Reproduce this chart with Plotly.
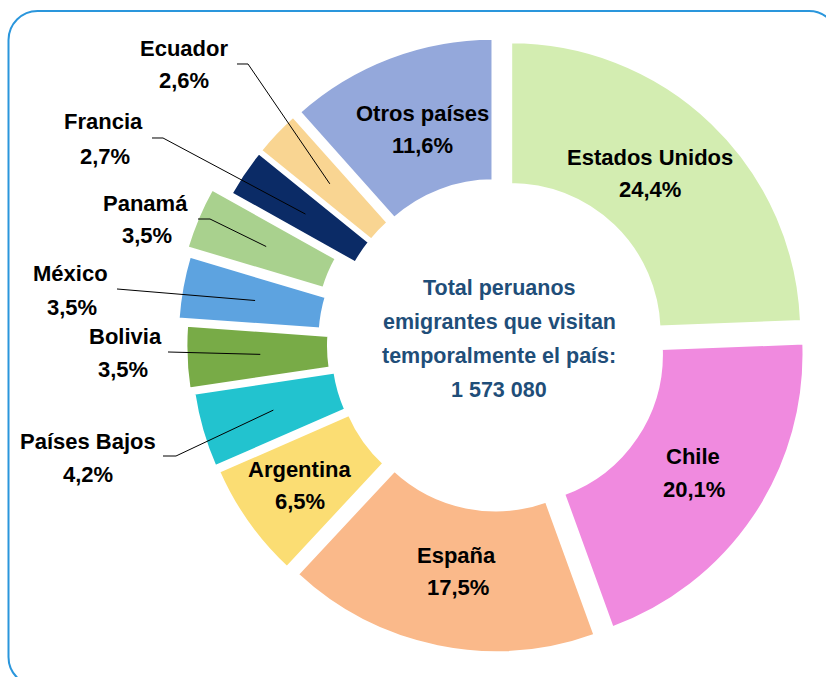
import math
import plotly.graph_objects as go

W, H = 826, 677

# ---- data ----
countries = ["Estados Unidos", "Chile", "España", "Argentina", "Países Bajos",
             "Bolivia", "México", "Panamá", "Francia", "Ecuador", "Otros países"]
shares = [24.4, 20.1, 17.5, 6.5, 4.2, 3.5, 3.5, 3.5, 2.7, 2.6, 11.6]
colors = ["#D3EDB1", "#F08ADF", "#FAB98A", "#FBDD73", "#22C3CF",
          "#78AB47", "#5DA3E0", "#A9D18E", "#0B2B66", "#F9D592", "#94A8DB"]
center_lines = ["Total peruanos", "emigrantes que visitan",
                "temporalmente el país:", "1 573 080"]

# ---- geometry (pixels) ----
CX, CY = 499, 345
R = 291
HOLE = 0.51
MAXPULL = 327.0 / R - 1
pulls = [0.058, 0.058, 0.058, 0.058, 0.062, 0.076, 0.107, MAXPULL,
         0.058, 0.058, 0.058]
half = R * (1 + MAXPULL)


def X(px):
    return px / W


def Y(py):
    return 1 - py / H


fig = go.Figure()
fig.add_trace(go.Pie(
    labels=countries, values=shares, sort=False, direction="clockwise",
    rotation=0, hole=HOLE, pull=pulls,
    marker=dict(colors=colors, line=dict(color="white", width=3)),
    textinfo="none", hoverinfo="label+percent", showlegend=False,
    domain=dict(x=[max(0.0, X(CX - half)), min(1.0, X(CX + half))],
                y=[max(0.0, Y(CY + half)), min(1.0, Y(CY - half))]),
))

FONT = "Liberation Sans, Arial, sans-serif"
annotations = []


def add_text(txt, x, y, size=22, color="black"):
    annotations.append(dict(
        text="<b>%s</b>" % txt, x=X(x), y=Y(y), xref="paper", yref="paper",
        showarrow=False, xanchor="center", yanchor="middle",
        font=dict(family=FONT, size=size, color=color)))


def pct(v):
    return ("%.1f" % v).replace(".", ",") + "%"


# label placement: name line (x, y), percent line (x, y)
label_pos = {
    "Estados Unidos": (650, 157, 650, 190),
    "Chile": (693, 456, 694, 489),
    "España": (456, 555, 458, 587),
    "Argentina": (299, 469, 300, 501),
    "Países Bajos": (88, 441, 88, 474),
    "Bolivia": (125, 337, 123, 369),
    "México": (70, 273, 72, 307),
    "Panamá": (145, 203, 147, 236),
    "Francia": (103, 122, 105, 156),
    "Ecuador": (184, 49, 184, 80),
    "Otros países": (422, 113, 422, 145),
}
for name, v in zip(countries, shares):
    x1, y1, x2, y2 = label_pos[name]
    add_text(name, x1, y1)
    add_text(pct(v), x2, y2)

# centre text
for i, line in enumerate(center_lines):
    add_text(line, 499, 288 + i * 34, size=21.5, color="#1F4E79")

# leader lines: label-side points, ending inside the slice (from data)
leader_start = {
    "Ecuador": [(237, 64), (248, 64)],
    "Francia": [(152, 138), (163, 138)],
    "Panamá": [(198, 219), (210, 219)],
    "México": [(117, 289)],
    "Bolivia": [(168, 352)],
    "Países Bajos": [(163, 456), (176, 456)],
}
total = sum(shares)
cum = 0.0
shapes = []
for name, v, p in zip(countries, shares, pulls):
    mid = math.radians((cum + v / 2) / total * 360)
    cum += v
    if name not in leader_start:
        continue
    dx, dy = math.sin(mid), -math.cos(mid)
    r_end = R * p + R * 0.745
    ex, ey = CX + r_end * dx, CY + r_end * dy
    pts = leader_start[name] + [(ex, ey)]
    path = "M " + " L ".join("%.5f,%.5f" % (X(px), Y(py)) for px, py in pts)
    shapes.append(dict(type="path", path=path, xref="paper", yref="paper",
                       line=dict(color="black", width=1)))

# rounded frame
L_, T_, R_, B_, rad = 8.5, 11, 838, 686, 29
k = 0.45
frame = ("M {a},{b} L {c},{b} C {c2},{b} {r},{d2} {r},{d} L {r},{e} "
         "C {r},{e2} {c2},{bb} {c},{bb} L {a},{bb} C {a2},{bb} {l},{e2} {l},{e} "
         "L {l},{d} C {l},{d2} {a2},{b} {a},{b} Z").format(
    a=X(L_ + rad), b=Y(T_), c=X(R_ - rad), c2=X(R_ - rad * k), r=X(R_),
    d=Y(T_ + rad), d2=Y(T_ + rad * k), e=Y(B_ - rad), e2=Y(B_ - rad * k),
    bb=Y(B_), a2=X(L_ + rad * k), l=X(L_))
shapes.append(dict(type="path", path=frame, xref="paper", yref="paper",
                   line=dict(color="#2A96DC", width=2), layer="below"))

fig.update_layout(
    width=W, height=H, margin=dict(l=0, r=0, t=0, b=0),
    paper_bgcolor="white", plot_bgcolor="white",
    annotations=annotations, shapes=shapes, showlegend=False,
)
fig.write_html("out.html", config={"displayModeBar": False},
               post_script="document.body.style.margin='0';"
                           "document.body.style.overflow='hidden';")
